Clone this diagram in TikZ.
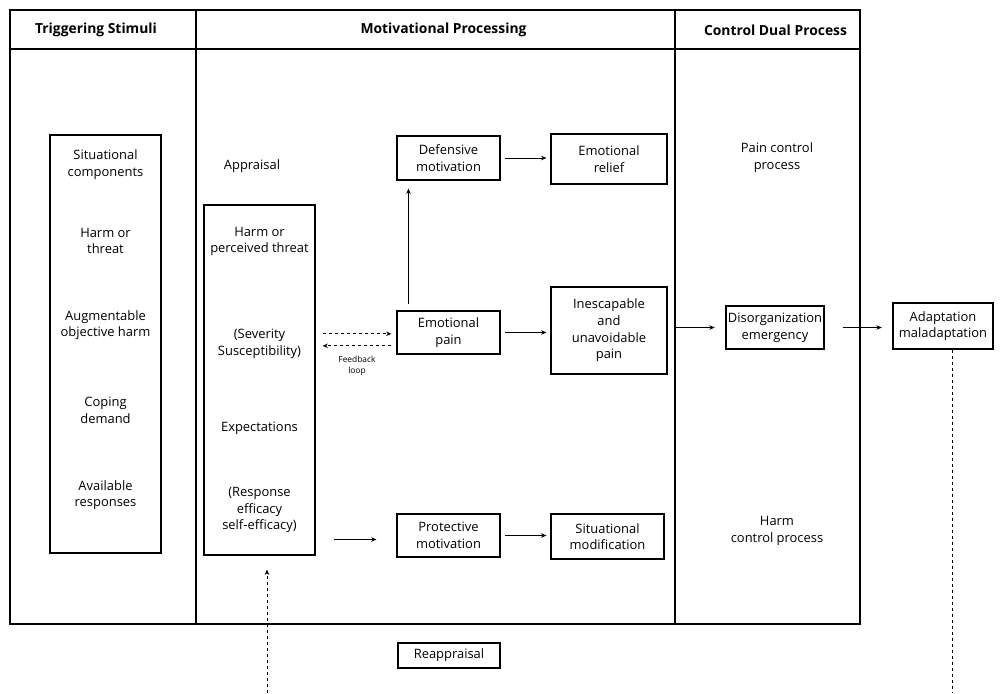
\documentclass[tikz,border=0pt]{standalone}
\usepackage{fontspec}
\setmainfont{Open Sans}
\usetikzlibrary{arrows.meta,calc}
\begin{document}
\begin{tikzpicture}[x=0.75pt,y=-0.75pt,
  every node/.style={font=\fontsize{9.7}{12.5}\selectfont, align=center, inner sep=0pt},
  colbox/.style={draw, line width=0.95pt, minimum height=460.5pt},
  box/.style={draw, line width=0.85pt},
  hdr/.style={font=\fontsize{10.4}{12}\selectfont\bfseries},
  small/.style={font=\fontsize{6.3}{7.8}\selectfont},
  arr/.style={line width=0.65pt, -{Stealth[length=4pt,width=3.4pt]}, shorten <=3pt, shorten >=3pt},
  dasharr/.style={line width=0.65pt, dash pattern=on 2.5pt off 2pt, -{Stealth[length=4pt,width=3.4pt]}},
  dline/.style={line width=0.65pt, dash pattern=on 2.5pt off 2pt}
]
\useasboundingbox (0,0) rectangle (1000,693);

% columns
\node[colbox, minimum width=139.5pt] (col1) at (103,317) {};
\node[colbox, minimum width=359.25pt] (col2) at (435.5,317) {};
\node[colbox, minimum width=138.75pt] (col3) at (767.5,317) {};
\draw[line width=0.95pt] (10,49) -- (860,49);

% headers
\node[hdr] (h1) at (96,30) {Triggering Stimuli};
\node[hdr] (h2) at (443.5,30) {Motivational Processing};
\node[hdr] (h3) at (775.5,30) {Control Dual Process};

% triggering stimuli box
\node[box, minimum width=83.25pt, minimum height=313.5pt] (stim) at (105.5,344) {};
\node (s1) at (105.5,164.5) {Situational\\components};
\node (s2) at (105.5,241) {Harm or\\threat};
\node (s3) at (105.5,325) {Augmentable\\objective harm};
\node (s4) at (105.5,410) {Coping\\demand};
\node (s5) at (105.5,495) {Available\\responses};

% appraisal
\node (appr) at (252,166) {Appraisal};
\node[box, minimum width=83.25pt, minimum height=262.5pt] (harm) at (259.5,380) {};
\node (m1) at (259.5,241.5) {Harm or\\perceived threat};
\node (m2) at (259.5,343.5) {(Severity\\Susceptibility)};
\node (m3) at (259.5,428) {Expectations};
\node (m4) at (259.5,510) {(Response\\efficacy\\self-efficacy)};

% middle boxes
\node[box, minimum width=77.25pt, minimum height=33pt] (def) at (448.5,158) {Defensive\\motivation};
\node[box, minimum width=87pt, minimum height=37.5pt] (relief) at (609,159) {Emotional\\relief};
\node[box, minimum width=77.25pt, minimum height=32.25pt] (pain) at (448.5,332.5) {Emotional\\pain};
\node[box, minimum width=87pt, minimum height=65.25pt] (inesc) at (609,330.5) {Inescapable\\and\\unavoidable\\pain};
\node[box, minimum width=77.25pt, minimum height=32.25pt] (prot) at (448.5,535.5) {Protective\\motivation};
\node[box, minimum width=84.75pt, minimum height=33.75pt] (sitmod) at (607.5,536.5) {Situational\\modification};

% control column
\node (pcp) at (777,157.5) {Pain control\\process};
\node (hcp) at (777,531) {Harm\\control process};
\node[box, minimum width=73.5pt, minimum height=32.25pt] (disorg) at (775,327.5) {Disorganization\\emergency};
\node[box, minimum width=75pt, minimum height=34.5pt] (adapt) at (943,326) {Adaptation\\maladaptation};

% reappraisal
\node[box, minimum width=76.5pt, minimum height=18.75pt] (reap) at (449,655.5) {Reappraisal};

% feedback label
\node[small] (fb) at (357,366) {Feedback\\loop};

% arrows
\draw[arr] (def) -- (relief.west |- def.east);
\draw[arr] (pain) -- (inesc.west |- pain.east);
\draw[arr] (prot) -- (sitmod.west |- prot.east);
\draw[arr, shorten <=13.5pt, shorten >=15pt] ([yshift=-3pt]prot.west -| harm.east) -- ([yshift=-3pt]prot.west);
\draw[arr, shorten <=4.5pt, shorten >=6pt] ([xshift=9pt]pain.north west) -- ([xshift=9pt]pain.north west |- def.south);
\draw[arr, shorten <=6pt, shorten >=8pt] (inesc.east |- disorg.west) -- (disorg.west);
\draw[arr, shorten <=13.5pt, shorten >=8pt] (disorg.east) -- (adapt.west |- disorg.east);

% feedback loop
\draw[dasharr, shorten <=5.25pt, shorten >=3.75pt] ([yshift=-1pt]pain.west -| harm.east) -- ([yshift=-1pt]pain.west);
\draw[dasharr, shorten <=3.75pt, shorten >=5.25pt] ([yshift=-10pt]pain.west) -- ([yshift=-10pt]pain.west -| harm.east);

% bottom dashed lines
\coordinate (bl) at (267,693);
\coordinate (br) at (952,693);
\draw[dasharr, shorten >=10.5pt] (bl) -- (bl |- harm.south);
\draw[dline] (br |- adapt.south) -- (br);
\end{tikzpicture}
\end{document}
